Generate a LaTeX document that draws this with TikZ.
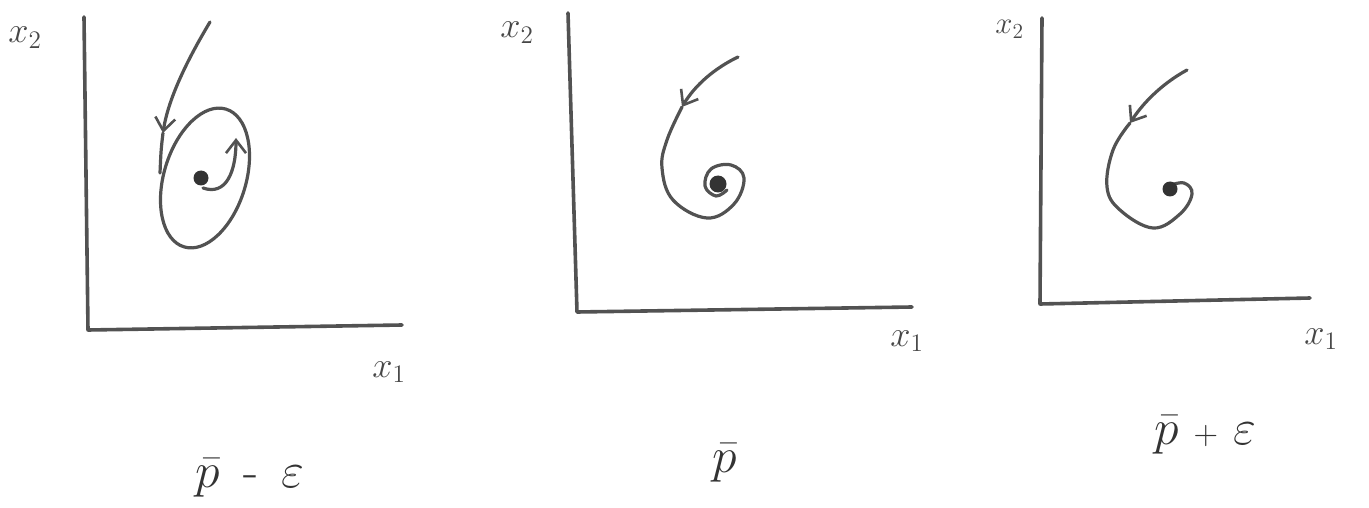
\documentclass[tikz,border=0pt]{standalone}
\usetikzlibrary{arrows.meta}
\begin{document}
\begin{tikzpicture}[x=1pt,y=-1pt,
  ink/.style={draw=black!68, line cap=round, line join=round},
  axis/.style={ink, line width=3.6pt},
  traj/.style={ink, line width=3.2pt},
  barb/.style={-{Straight Barb[length=13pt,width=20pt,line width=2.6pt]}},
  dotfill/.style={fill=black!80, draw=none},
  lab/.style={text=black!72, inner sep=0pt, font=\fontsize{17.28}{18}\selectfont, scale=2.1, transform shape},
  plab/.style={text=black!80, inner sep=0pt, font=\fontsize{24.88}{25}\selectfont, scale=2, transform shape}]
\useasboundingbox (0,0) rectangle (1369,508);

% ---------- panel 1 ----------
\coordinate (t1) at (84,17);
\coordinate (o1) at (88,330);
\coordinate (r1) at (402,325);
\draw[axis] (t1) -- (o1) -- (r1);
\node[lab, anchor=base west] (x2a) at (8,43) {$x_2$};
\node[lab, anchor=base west] (x1a) at (372,377) {$x_1$};
\coordinate (c1) at (205,178);
\draw[traj, rotate around={-17:(c1)}] (c1) ellipse [x radius=41pt, y radius=72pt];
\fill[dotfill] (201,178) circle [radius=7.5pt];
\coordinate (i1s) at (203,188);
\coordinate (i1e) at (236,138);
\draw[traj, barb] (i1s) .. controls (226,196) and (236,172) .. (i1e);
\coordinate (s1) at (210,22);
\coordinate (a1) at (163,133);
\coordinate (e1) at (160,173);
\draw[traj, barb] (s1) .. controls (186,62) and (168,100) .. (a1);
\draw[traj] (a1) .. controls (161,150) .. (e1);
\node[plab, anchor=base] (lab1) at (250,487) {$\bar p$\ \,-\ \,$\varepsilon$};

% ---------- panel 2 ----------
\coordinate (t2) at (568,13);
\coordinate (o2) at (577,312);
\coordinate (r2) at (912,307);
\draw[axis] (t2) -- (o2) -- (r2);
\node[lab, anchor=base west] (x2b) at (500,38) {$x_2$};
\node[lab, anchor=base west] (x1b) at (890,346) {$x_1$};
\coordinate (s2) at (738,57);
\coordinate (a2) at (682,107);
\draw[traj, barb] (s2) .. controls (715,68) and (695,85) .. (a2);
\draw[traj] plot[smooth, tension=0.65] coordinates {(a2) (667,140) (662,168) (673,200) (707,218) (734,204) (744,178) (731,165) (711,169) (705,186) (716,196) (727,190)};
\fill[dotfill] (718,184) circle [radius=8.5pt];

% ---------- panel 3 ----------
\coordinate (t3) at (1042,18);
\coordinate (o3) at (1040,304);
\coordinate (r3) at (1310,298);
\draw[axis] (t3) -- (o3) -- (r3);
\node[lab, anchor=base west, scale=0.85] (x2c) at (995,34) {$x_2$};
\node[lab, anchor=base west] (x1c) at (1304,344) {$x_1$};
\coordinate (s3) at (1187,70);
\coordinate (a3) at (1130,123);
\draw[traj, barb] (s3) .. controls (1165,82) and (1145,100) .. (a3);
\draw[traj] plot[smooth, tension=0.65] coordinates {(a3) (1113,150) (1107,187) (1120,210) (1153,228) (1180,214) (1192,194) (1184,183) (1168,186)};
\fill[dotfill] (1170,189) circle [radius=7.5pt];
\node[plab, anchor=base] (lab3) at (1205,444) {$\bar p$\ {\fontsize{17}{17}\selectfont +}\ $\varepsilon$};

% ---------- middle label ----------
\node[plab, anchor=base] (lab2) at (725,472) {$\bar p$};
\end{tikzpicture}
\end{document}
